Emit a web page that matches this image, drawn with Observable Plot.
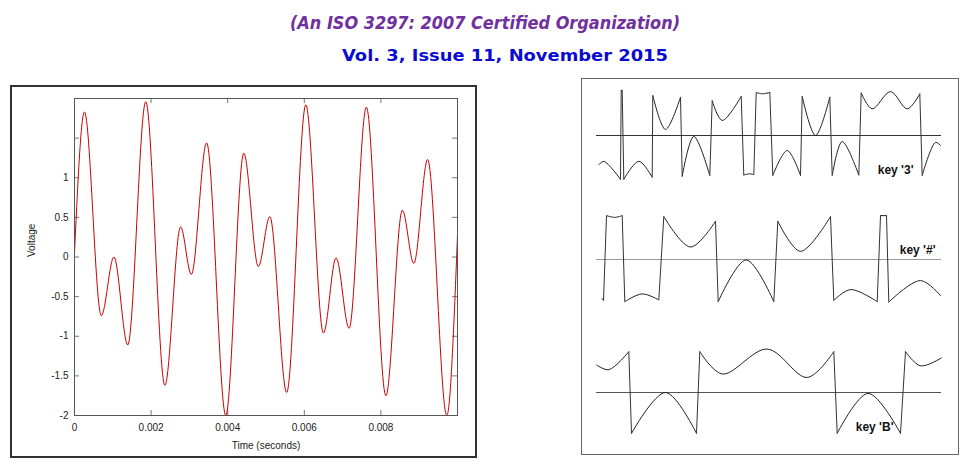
<!DOCTYPE html>
<html><head><meta charset="utf-8">
<script src="https://cdn.jsdelivr.net/npm/d3@7"></script>
<script src="https://cdn.jsdelivr.net/npm/@observablehq/plot@0.6"></script>
<style>
body{margin:0;background:#fff;width:966px;height:472px;overflow:hidden;position:relative;font-family:"Liberation Sans",Arial,sans-serif;}
#hdr{position:absolute;left:0;top:0;}
#left{position:absolute;left:10px;top:85px;width:467px;height:373px;border:2px solid #333;box-sizing:border-box;background:#fff;}
#right{position:absolute;left:581px;top:78px;width:378px;height:377px;border:1px solid #666;box-sizing:border-box;background:#fff;}
#right > div{position:absolute;left:0;}
svg{display:block}
</style></head><body>
<svg id="hdr" width="966" height="75">
<text x="485" y="29" text-anchor="middle" textLength="390" lengthAdjust="spacingAndGlyphs" font-family="'Liberation Sans Narrow','DejaVu Sans Condensed',sans-serif" font-style="italic" font-weight="bold" font-size="17" fill="#7030a0">(An ISO 3297: 2007 Certified Organization)</text>
<text x="505" y="61" text-anchor="middle" textLength="326" lengthAdjust="spacingAndGlyphs" font-family="'DejaVu Sans',Verdana,sans-serif" font-weight="bold" font-size="16" fill="#0a0ad0">Vol. 3, Issue 11, November 2015</text>
</svg>
<div id="left"></div>
<div id="right"><div id="k3" style="top:6px"></div><div id="kh" style="top:130px"></div><div id="kb" style="top:262.7px"></div></div>
<script>
// ---- Left chart data (local extrema) ----
const timeSec = [0, 0.00026, 0.0007, 0.00103, 0.00139, 0.00186, 0.00236, 0.00277, 0.00305, 0.00345, 0.00395, 0.00442, 0.0048, 0.0051, 0.00554, 0.00604, 0.0065, 0.00683, 0.00717, 0.00762, 0.00813, 0.00856, 0.00886, 0.00922, 0.00972, 0.01];
const voltage = [0.05, 1.83, -0.74, 0.0, -1.11, 1.96, -1.62, 0.38, -0.22, 1.44, -2.0, 1.31, -0.12, 0.51, -1.71, 1.92, -0.96, -0.01, -0.90, 1.89, -1.75, 0.59, -0.08, 1.23, -2.0, 0.27];
const xTickValues = [0, 0.002, 0.004, 0.006, 0.008, 0.01];
const xTickLabels = ["0", "0.002", "0.004", "0.006", "0.008", ""];
const yTickValues = [-2, -1.5, -1, -0.5, 0, 0.5, 1, 1.5, 2];
const yTickLabels = ["-2", "-1.5", "-1", "-0.5", "0", "0.5", "1", "", ""];
const xLabel = "Time (seconds)";
const yLabel = "Voltage";

// ---- Right panel data: waveform segments [time, level] between jumps ----
const key3Segments = [
  [[2.3,-0.68],[7.3,-0.60],[24,-1.02]],
  [[24.7,1.05],[25.7,1.05]],
  [[27.3,-1.02],[42.3,-0.60],[55.7,-0.97]],
  [[56.3,0.93],[69,0.14],[84,0.89]],
  [[85.7,-0.95],[97.3,-0.02],[113.3,-0.93]],
  [[115.7,0.81],[125.7,0.35],[144.7,0.91]],
  [[147.3,-0.92],[153,-0.89],[157.3,-0.91]],
  [[159.7,1.0],[165.7,0.97],[173.3,1.0]],
  [[176.3,-0.93],[190.7,-0.35],[204,-0.93]],
  [[205.7,0.91],[219,0.0],[233.3,0.89]],
  [[235.7,-0.93],[245.7,-0.14],[262.3,-0.92]],
  [[264.7,0.99],[275.7,0.62],[294,1.02],[310.7,0.62],[323.3,0.97]],
  [[325.7,-0.93],[339,-0.16],[344,-0.23]]
];
const keyHashSegments = [
  [[5.7,-0.91],[7,-0.95]],
  [[10,1.02],[18,0.98],[25.7,1.02]],
  [[28.3,-0.98],[45.7,-0.80],[62.3,-0.94]],
  [[67.3,1.0],[94,0.29],[119,0.89]],
  [[121.7,-0.98],[149.7,-0.01],[177.3,-0.98]],
  [[181.3,0.89],[204,0.19],[234,1.0]],
  [[237.3,-0.95],[254,-0.70],[280.7,-0.98]],
  [[284,1.02],[290,1.02]],
  [[292.3,-0.99],[324,-0.49],[344,-0.84]]
];
const keyBSegments = [
  [[0,0.64],[12.3,0.53],[32.3,0.95]],
  [[35,-0.95],[69,0.0],[100,-0.95]],
  [[103.3,0.95],[125.7,0.43],[170.7,1.01],[210.7,0.35],[237.3,0.95]],
  [[240.7,-0.95],[271.7,-0.02],[304,-0.95]],
  [[309,0.95],[324,0.62],[344.7,0.80]]
];
const keyLabels = ["key '3'", "key '#'", "key 'B'"];

// ---- Left chart ----
const signal = timeSec.map((t, i) => ({t, v: voltage[i]}));
const W = 463, H = 369, ML = 62, MR = 18, MT = 11, MB = 41;
const innerW = W - ML - MR, innerH = H - MT - MB;
const leftPlot = Plot.plot({
  width: W, height: H, marginLeft: ML, marginRight: MR, marginTop: MT, marginBottom: MB,
  style: {fontFamily: "'Liberation Sans', Arial, sans-serif", fontSize: "10px", color: "#222", background: "white"},
  x: {domain: [0, 0.01]},
  y: {domain: [-2, 2]},
  marks: [
    Plot.tickX(xTickValues, {x: d => d, stroke: "#777", insetTop: innerH - 5}),
    Plot.tickX(xTickValues, {x: d => d, stroke: "#777", insetBottom: innerH - 5}),
    Plot.tickY(yTickValues, {y: d => d, stroke: "#777", insetRight: innerW - 5}),
    Plot.tickY(yTickValues, {y: d => d, stroke: "#777", insetLeft: innerW - 5}),
    Plot.line(signal, {x: "t", y: "v", stroke: "#cc0000", strokeWidth: 1, curve: "monotone-x"}),
    Plot.frame({stroke: "#555"}),
    Plot.axisX({ticks: xTickValues, tickFormat: d => xTickLabels[xTickValues.indexOf(d)], tickSize: 0, tickPadding: 8, label: null}),
    Plot.axisY({ticks: yTickValues, tickFormat: d => yTickLabels[yTickValues.indexOf(d)], tickSize: 0, tickPadding: 6, label: null}),
    Plot.text([yLabel], {text: d => d, frameAnchor: "left", rotate: -90, dx: -43, fontSize: 10, fill: "#222"}),
    Plot.text([xLabel], {text: d => d, frameAnchor: "bottom", dy: 33, fontSize: 10, fill: "#222"})
  ]
});
document.getElementById("left").appendChild(leftPlot);

// ---- Right panel ----
function wavePlot(segments, label, baseColor, anchor, dx, dy) {
  const rows = segments.flatMap((seg, s) => seg.map(([t, v]) => ({t, v, s})));
  const jumps = segments.slice(1).map((seg, i) => {
    const prev = segments[i];
    const a = prev[prev.length - 1], b = seg[0];
    return {x1: a[0], y1: a[1], x2: b[0], y2: b[1]};
  });
  return Plot.plot({
    width: 376, height: 100, marginLeft: 14, marginRight: 17, marginTop: 0, marginBottom: 0,
    style: {fontFamily: "'Liberation Sans', Arial, sans-serif", background: "transparent"},
    x: {domain: [0, 345], axis: null},
    y: {domain: [-50 / 43, 50 / 43], axis: null},
    marks: [
      Plot.ruleY([0], {stroke: baseColor, strokeWidth: 1}),
      Plot.line(rows, {x: "t", y: "v", z: "s", curve: "catmull-rom", stroke: "#222", strokeWidth: 1}),
      Plot.link(jumps, {x1: "x1", y1: "y1", x2: "x2", y2: "y2", stroke: "#333", strokeWidth: 1}),
      Plot.text([label], {text: d => d, frameAnchor: anchor, textAnchor: "end", dx, dy, fontSize: 12, fontWeight: "bold", fill: "#111"})
    ]
  });
}
document.getElementById("k3").appendChild(wavePlot(key3Segments, keyLabels[0], "#333", "bottom-right", -28, -12));
document.getElementById("kh").appendChild(wavePlot(keyHashSegments, keyLabels[1], "#999", "right", -6, -9));
document.getElementById("kb").appendChild(wavePlot(keyBSegments, keyLabels[2], "#555", "bottom-right", -48, -12));
</script>
</body></html>
